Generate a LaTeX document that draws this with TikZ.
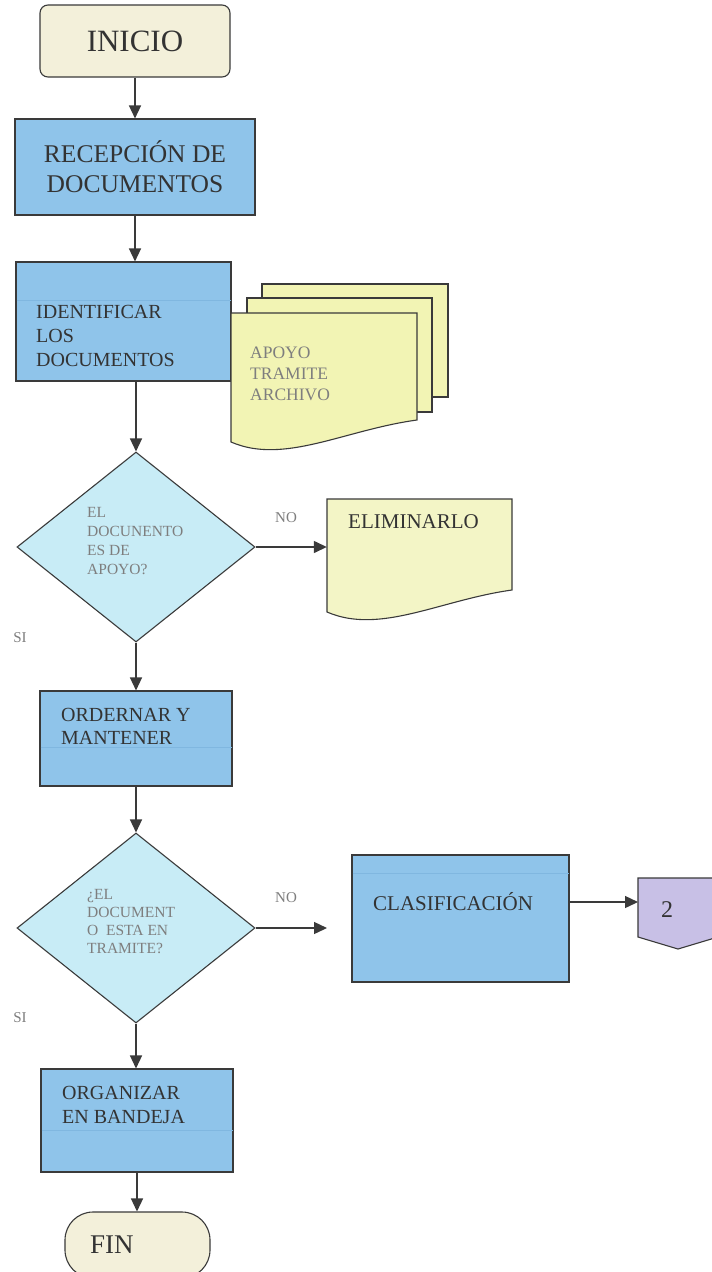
\documentclass[tikz,border=0pt]{standalone}
\usepackage{fontspec}
\setmainfont{Liberation Serif}
\usetikzlibrary{arrows.meta,shapes.geometric}
\definecolor{ink}{HTML}{3A3A3A}
\definecolor{termcream}{HTML}{F3F0DA}
\definecolor{procblue}{HTML}{8FC4EA}
\definecolor{procline}{HTML}{80B7E0}
\definecolor{deccyan}{HTML}{C8ECF6}
\definecolor{docyellow}{HTML}{F2F4B4}
\definecolor{elimyellow}{HTML}{F3F5C6}
\definecolor{connpurple}{HTML}{C8C0E6}
\definecolor{textdark}{HTML}{333333}
\definecolor{textgray}{HTML}{7E7E7E}
\tikzset{
  outline/.style={draw=ink, line width=1.1pt},
  term/.style={outline, fill=termcream, rounded corners=8pt, inner sep=0pt, text=textdark},
  procbox/.style={outline, fill=procblue, inner sep=0pt, text=textdark},
  decision/.style={diamond, outline, fill=deccyan, inner sep=0pt},
  flow/.style={draw=ink, line width=1.4pt, -{Triangle[length=13pt,width=12pt]}},
  txt/.style={inner sep=0pt, anchor=west, align=left, text=textdark},
  gtxt/.style={txt, text=textgray},
  shadeline/.style={draw=procline, line width=0.8pt}
}
\begin{document}
\begin{tikzpicture}[x=1pt,y=-1pt]
\useasboundingbox (0,0) rectangle (712,1272);
\fill[white] (0,0) rectangle (712,1272);

% INICIO
\node[term, minimum width=190pt, minimum height=72pt, font=\fontsize{31}{31}\selectfont] (inicio) at (135,41) {INICIO};

% RECEPCION
\node[procbox, minimum width=240pt, minimum height=96pt, align=center, font=\fontsize{25.5}{30}\selectfont] (recep) at (135,167) {RECEPCIÓN DE\\DOCUMENTOS};

% IDENTIFICAR
\node[procbox, minimum width=215pt, minimum height=119pt] (ident) at (123.5,321.5) {};
\draw[shadeline] (16.5,300) -- (230.5,300);
\node[txt, font=\fontsize{20}{24}\selectfont] (identt) at (36,336) {IDENTIFICAR\\LOS\\DOCUMENTOS};

% document stack
\draw[outline, fill=docyellow] (262,284) rectangle (448,397);
\draw[outline, fill=docyellow] (247,298) rectangle (432,412);
\draw[outline, fill=docyellow] (231,313) -- (417,313) -- (417,420) .. controls (344,430) and (284,465) .. (231,442) -- cycle;
\node[gtxt, font=\fontsize{17.5}{21}\selectfont] (stackt) at (250,374) {APOYO\\TRAMITE\\ARCHIVO};

% decision 1
\node[decision, minimum width=238pt, minimum height=190pt] (d1) at (136,547) {};
\node[gtxt, font=\fontsize{15.5}{19}\selectfont] (d1t) at (87,541.5) {EL\\DOCUNENTO\\ES DE\\APOYO?};
\node[gtxt, anchor=center, font=\fontsize{15}{15}\selectfont] (no1) at (286,518) {NO};
\node[gtxt, anchor=center, font=\fontsize{15}{15}\selectfont] (si1) at (20,638) {SI};

% ELIMINARLO document
\node[minimum width=183pt, minimum height=113pt, inner sep=0pt] (elim) at (418.5,555.5) {};
\draw[outline, fill=elimyellow] (327,499) -- (512,499) -- (512,590) .. controls (440,600) and (380,635) .. (327,612) -- cycle;
\node[txt, font=\fontsize{21}{21}\selectfont] (elimt) at (348,522) {ELIMINARLO};

% ORDERNAR
\node[procbox, minimum width=192pt, minimum height=95pt] (ord) at (136,738.5) {};
\draw[shadeline] (40.5,747) -- (231.5,747);
\node[txt, font=\fontsize{20}{23}\selectfont] (ordt) at (61,726.5) {ORDERNAR Y\\MANTENER};

% decision 2
\node[decision, minimum width=238pt, minimum height=190pt] (d2) at (136,928) {};
\node[gtxt, font=\fontsize{15.5}{18}\selectfont] (d2t) at (87,922) {¿EL\\DOCUMENT\\O\ \ ESTA EN\\TRAMITE?};
\node[gtxt, anchor=center, font=\fontsize{15}{15}\selectfont] (no2) at (286,898) {NO};
\node[gtxt, anchor=center, font=\fontsize{15}{15}\selectfont] (si2) at (20,1018) {SI};
\coordinate (noend) at (327,928);

% CLASIFICACION
\node[procbox, minimum width=217pt, minimum height=127pt] (cls) at (460.5,918.5) {};
\draw[shadeline] (352.5,873) -- (568.5,873);
\node[txt, font=\fontsize{21}{21}\selectfont] (clst) at (373,902) {CLASIFICACIÓN};

% off-page connector 2
\node[minimum width=80pt, minimum height=71pt, inner sep=0pt] (conn) at (678,913.5) {};
\draw[outline, fill=connpurple] (638,878) -- (718,878) -- (718,937) -- (678,949) -- (638,937) -- cycle;
\node[inner sep=0pt, text=textdark, font=\fontsize{24}{24}\selectfont] (two) at (667,910) {2};
\coordinate (connin) at (638,902);

% ORGANIZAR
\node[procbox, minimum width=192pt, minimum height=103pt] (org) at (137,1120.5) {};
\draw[shadeline] (41.5,1130) -- (232.5,1130);
\node[txt, font=\fontsize{20}{24}\selectfont] (orgt) at (62,1105) {ORGANIZAR\\EN BANDEJA};

% FIN
\node[term, rounded corners=28pt, minimum width=145pt, minimum height=66pt] (fin) at (137.5,1245) {};
\node[txt, font=\fontsize{27}{27}\selectfont] (fint) at (90,1245) {FIN};

% connectors
\draw[flow] (inicio.south) -- (inicio.south |- recep.north);
\draw[flow] (recep.south) -- (recep.south |- ident.north);
\draw[flow] (ident.south -| d1.north) -- (d1.north);
\draw[flow] (d1.east) -- (d1.east -| elim.west);
\draw[flow] (d1.south) -- (d1.south |- ord.north);
\draw[flow] (ord.south) -- (ord.south |- d2.north);
\draw[flow] (d2.east) -- (noend);
\draw[flow] (cls.east |- connin) -- (connin);
\draw[flow] (d2.south) -- (d2.south |- org.north);
\draw[flow] (org.south) -- (org.south |- fin.north);
\end{tikzpicture}
\end{document}
